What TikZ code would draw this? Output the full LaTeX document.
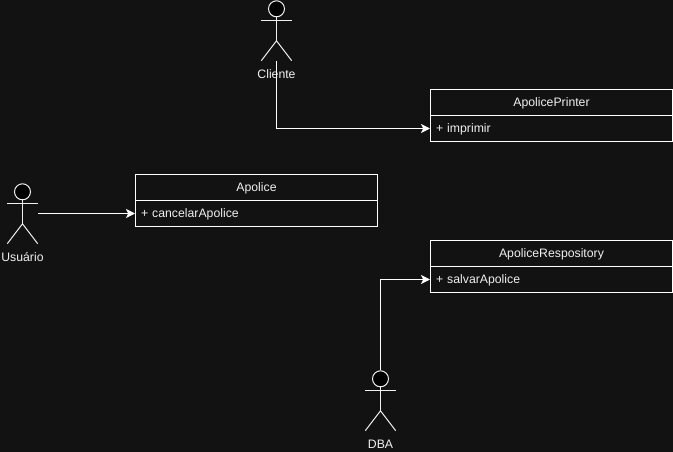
\documentclass[tikz,border=0pt]{standalone}
\usepackage{fontspec}
\setmainfont{Liberation Sans}
\usetikzlibrary{arrows.meta,calc}
\definecolor{bgc}{HTML}{121212}
\definecolor{fg}{HTML}{F0F0F0}
\tikzset{
  x=1pt,y=-1pt,
  title/.style={draw=white,line width=1pt,minimum width=242pt,minimum height=26pt,inner sep=0pt,text=fg,text height=10.9pt,text depth=2.5pt,font=\fontsize{12.25}{14}\selectfont},
  methods/.style={title,text width=231pt,align=left},
  actorbox/.style={minimum width=30pt,minimum height=60pt,inner sep=0pt},
  actorline/.style={draw=fg,line width=1pt},
  actorhead/.style={circle,draw=fg,line width=1pt,fill=black,minimum size=16pt,inner sep=0pt},
  actorlabel/.style={text=fg,inner sep=0pt,font=\fontsize{12.25}{14}\selectfont},
  conn/.style={draw=white,line width=1pt,-{Stealth[inset=2.2pt,length=9pt,width=9pt]}},
}
\newcommand{\myactor}[4]{% name, x, y (centre), label
  \node[actorbox] (#1) at (#2,#3) {};
  \node[actorhead,anchor=north] (#1head) at (#1.north) {};
  \coordinate (#1hip) at ($(#1.north)+(0,40.5)$);
  \draw[actorline] (#1head.south) -- (#1hip);
  \draw[actorline] ($(#1.north west)+(0,20)$) -- ($(#1.north east)+(0,20)$);
  \draw[actorline] (#1.south west) -- (#1hip) -- (#1.south east);
  \node[actorlabel,anchor=center] (#1label) at ($(#1.south)+(0,13.2)$) {#4};
}
\begin{document}
\begin{tikzpicture}
\useasboundingbox[fill=bgc] (0,0) rectangle (673,452);
\myactor{cliente}{276.5}{30.5}{Cliente}
\myactor{usuario}{22.5}{213.5}{Usuário}
\myactor{dba}{380.5}{400.5}{DBA}
\node[title] (printer) at (551.5,102.5) {ApolicePrinter};
\node[methods] (printerm) at (551.5,128.5) {+ imprimir};
\node[title] (apolice) at (256.5,187.5) {Apolice};
\node[methods] (apolicem) at (256.5,213.5) {+ cancelarApolice};
\node[title] (repo) at (551.5,253.5) {ApoliceRespository};
\node[methods] (repom) at (551.5,279.5) {+ salvarApolice};
\draw[conn] (cliente.south) |- (printerm.west);
\draw[conn] (usuario.east) -- (apolicem.west);
\draw[conn] (dba.north) |- (repom.west);
\end{tikzpicture}
\end{document}
